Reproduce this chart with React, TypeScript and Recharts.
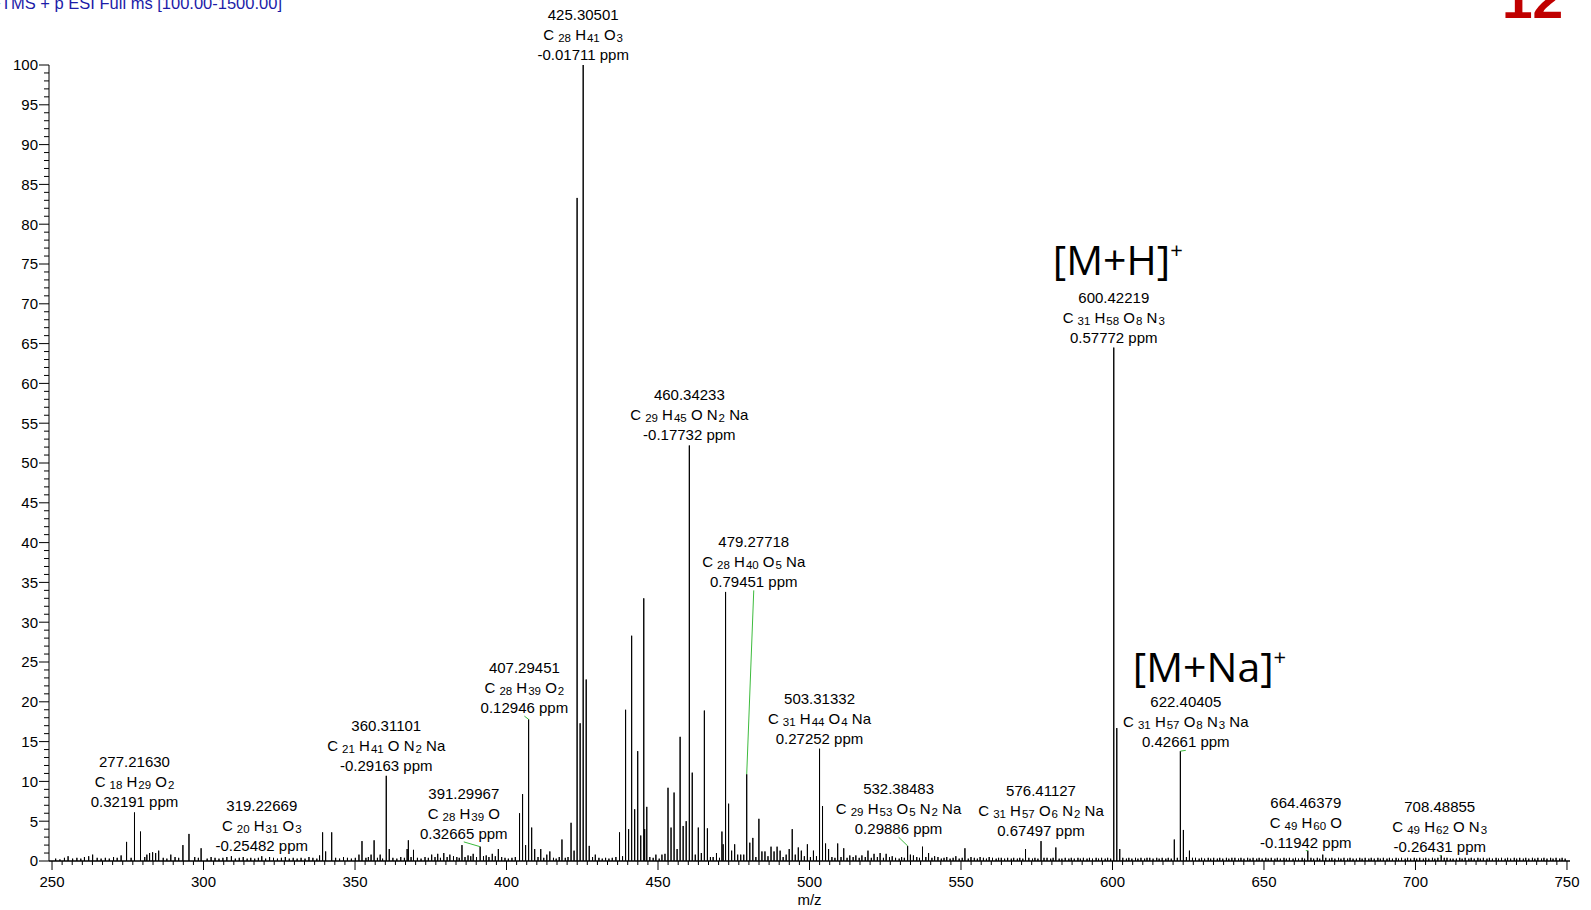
import React from 'react';
import { ComposedChart, Line, XAxis, YAxis, ReferenceDot, ReferenceLine } from 'recharts';

// centroid peaks: [m/z, relative abundance %]
const peaks: [number, number][] = [
  [274.6, 2.4], [277.2163, 6.1], [279.2, 3.7], [282.2, 1.0], [283.2, 1.1], [284.2, 1.0], [285.2, 1.3],
  [289.2, 0.8], [293.2, 2.0], [295.2, 3.4], [299.2, 1.6], [309.2, 0.6], [319.22669, 0.6],
  [339.3, 3.6], [340.3, 1.2], [342.3, 3.6], [351.3, 0.8], [352.3, 2.5], [355.3, 0.8], [356.3, 2.6],
  [358.3, 0.8], [360.31101, 10.7], [361.3, 1.5], [367.2, 1.5], [367.6, 2.6], [369.3, 1.4],
  [375.3, 0.8], [377.3, 0.9], [379.3, 1.0], [381.3, 0.8], [385.3, 2.0], [387.3, 0.7], [389.0, 0.9],
  [391.29967, 1.8], [393.3, 0.7], [395.3, 0.9], [397.3, 1.5],
  [404.3, 6.0], [405.3, 8.4], [406.3, 2.0], [407.29451, 17.8], [408.3, 4.2], [409.3, 1.5],
  [411.3, 1.5], [413.3, 0.8], [414.3, 1.2], [418.3, 2.7], [421.3, 4.8], [422.3, 1.3],
  [423.3, 83.3], [424.3, 17.3], [425.30501, 100], [426.3, 22.8], [427.3, 1.9], [429.3, 0.8],
  [437.3, 3.6], [438.3, 0.6], [439.3, 19.0], [440.3, 4.0], [441.3, 28.3], [442.3, 6.5],
  [443.3, 13.8], [444.3, 3.2], [445.3, 33.0], [445.6, 4.0], [446.3, 6.8], [447.3, 0.5],
  [449.3, 0.8], [451.3, 0.8], [452.3, 0.9], [453.3, 9.2], [454.3, 4.2], [455.3, 8.6], [456.3, 1.5],
  [457.3, 15.6], [458.3, 4.4], [459.3, 5.0], [460.34233, 52.2], [461.3, 11.1], [462.3, 0.8],
  [463.3, 4.2], [464.3, 1.0], [465.3, 18.9], [466.3, 4.1], [467.3, 0.5], [469.3, 1.0],
  [471.1, 3.7], [471.5, 2.1], [472.3, 33.8], [473.3, 7.2], [474.3, 1.3], [475.3, 2.1],
  [476.3, 0.8], [477.3, 0.8], [478.3, 0.8], [479.27718, 10.9], [480.3, 2.3], [481.3, 2.9],
  [483.3, 5.3], [484.3, 1.2], [485.3, 1.2], [487.3, 1.8], [488.3, 1.2], [489.3, 1.8], [490.3, 1.3],
  [492.3, 0.8], [493.3, 1.5], [494.3, 4.0], [495.3, 0.8], [496.3, 1.7], [497.3, 1.3], [499.3, 2.1],
  [501.3, 1.3], [503.31332, 14.1], [504.3, 6.9], [505.3, 2.2], [506.3, 1.5], [509.3, 2.2],
  [511.3, 1.6], [513.3, 0.7], [515.3, 0.7], [517.3, 0.7], [519.3, 1.3], [521.3, 0.9], [523.3, 1.0],
  [525.3, 0.9], [527.3, 0.6], [532.38483, 1.9], [533.3, 0.8], [534.3, 0.7], [537.3, 1.8],
  [539.3, 1.0], [541.3, 0.6], [545.3, 0.5], [548.3, 0.6], [551.3, 1.6], [553.3, 0.5], [556.3, 0.5],
  [559.3, 0.5], [563.3, 0.4], [571.3, 1.5], [576.41127, 2.5], [577.4, 0.4], [581.3, 1.7],
  [583.3, 0.3], [600.42219, 64.5], [601.42, 16.7], [602.4, 1.5], [612.3, 0.4], [620.4, 2.7],
  [621.4, 0.4], [622.40405, 13.8], [623.4, 3.9], [624.4, 0.5], [625.4, 1.3], [626.4, 0.4],
  [639.4, 0.4], [664.46379, 1.3], [665.5, 0.4], [669.4, 0.8], [680.5, 0.3], [708.48855, 0.7],
  [709.5, 0.4], [711.5, 0.3], [713.5, 0.3],
];

// small baseline signals
const baselineNoise: [number, number][] = [
  [251.2, 0.3], [252.6, 0.2], [254.1, 0.4], [255.3, 0.6], [256.8, 0.3], [258.2, 0.4], [259.5, 0.3],
  [260.7, 0.5], [262.1, 0.6], [263.4, 0.8], [264.9, 0.4], [266.2, 0.3], [267.6, 0.4], [268.9, 0.3],
  [270.3, 0.5], [271.5, 0.4], [272.8, 0.7], [276.1, 0.4], [280.6, 0.5], [281.3, 0.8], [286.7, 0.4],
  [287.9, 0.3], [290.6, 0.5], [291.8, 0.4], [297.1, 0.5], [298.3, 0.4], [301.2, 0.3], [302.5, 0.5],
  [303.8, 0.4], [305.1, 0.3], [306.4, 0.4], [307.7, 0.5], [310.5, 0.3], [311.8, 0.4], [313.1, 0.5],
  [314.4, 0.3], [315.6, 0.4], [316.9, 0.3], [318.1, 0.4], [320.5, 0.3], [321.8, 0.5], [323.1, 0.4],
  [324.4, 0.3], [325.7, 0.4], [327.0, 0.5], [328.3, 0.3], [329.6, 0.4], [330.9, 0.3], [332.2, 0.4],
  [333.5, 0.3], [334.8, 0.5], [336.1, 0.4], [337.4, 0.3], [338.3, 0.7], [343.6, 0.4], [344.9, 0.3],
  [346.2, 0.5], [347.5, 0.4], [348.8, 0.3], [350.1, 0.4], [353.6, 0.4], [354.4, 0.5], [357.4, 0.4],
  [359.1, 0.3], [362.5, 0.4], [363.8, 0.3], [365.1, 0.5], [366.3, 0.4], [368.5, 0.5], [370.6, 0.4],
  [371.8, 0.3], [373.1, 0.5], [374.2, 0.4], [376.4, 0.5], [378.2, 0.4], [380.4, 0.5], [382.5, 0.6],
  [383.6, 0.5], [384.4, 0.4], [386.3, 0.5], [388.2, 0.6], [390.1, 0.5], [392.4, 0.6], [394.2, 0.5],
  [396.3, 0.6], [398.4, 0.5], [399.5, 0.4], [400.6, 0.3], [401.8, 0.4], [402.9, 0.5], [410.4, 0.5],
  [412.3, 0.4], [415.5, 0.4], [416.4, 0.3], [417.4, 0.5], [419.4, 0.4], [420.3, 0.5], [428.4, 0.5],
  [430.5, 0.4], [431.6, 0.3], [432.7, 0.4], [433.8, 0.3], [434.9, 0.4], [436.1, 0.5], [448.4, 0.4],
  [450.4, 0.3], [468.2, 0.5], [470.3, 0.4], [482.3, 0.5], [486.3, 0.6], [491.3, 0.5], [498.3, 0.6],
  [500.3, 0.5], [502.3, 0.6], [507.4, 0.5], [508.4, 0.4], [510.4, 0.5], [512.4, 0.4], [514.4, 0.5],
  [516.4, 0.4], [518.4, 0.5], [520.4, 0.4], [522.4, 0.5], [524.4, 0.4], [526.4, 0.5], [528.4, 0.4],
  [529.6, 0.3], [530.4, 0.5], [531.3, 0.4], [535.4, 0.5], [536.3, 0.4], [538.4, 0.5], [540.4, 0.4],
  [542.4, 0.5], [543.5, 0.3], [544.4, 0.4], [546.4, 0.3], [547.4, 0.4], [549.4, 0.3], [550.4, 0.4],
  [552.4, 0.3], [554.4, 0.4], [555.4, 0.3], [557.4, 0.4], [558.4, 0.3], [560.4, 0.4], [561.6, 0.3],
  [562.4, 0.4], [564.4, 0.3], [565.4, 0.4], [566.6, 0.3], [567.4, 0.4], [568.6, 0.3], [569.4, 0.4],
  [570.4, 0.3], [572.4, 0.4], [573.6, 0.3], [574.4, 0.4], [575.4, 0.3], [578.4, 0.4], [579.6, 0.3],
  [580.4, 0.4], [582.4, 0.3], [584.4, 0.4], [585.6, 0.3], [586.4, 0.4], [587.4, 0.3], [588.6, 0.4],
  [589.4, 0.3], [590.4, 0.4], [591.6, 0.3], [592.4, 0.4], [593.4, 0.3], [594.6, 0.4], [595.4, 0.3],
  [596.4, 0.4], [597.6, 0.3], [598.4, 0.4], [599.4, 0.3], [603.4, 0.4], [604.6, 0.3], [605.4, 0.4],
  [606.4, 0.3], [607.6, 0.4], [608.4, 0.3], [609.4, 0.4], [610.6, 0.3], [611.4, 0.4], [613.4, 0.3],
  [614.6, 0.4], [615.4, 0.3], [616.4, 0.4], [617.6, 0.3], [618.4, 0.4], [619.4, 0.3], [627.4, 0.4],
  [628.6, 0.3], [629.4, 0.4], [630.4, 0.3], [631.6, 0.4], [632.4, 0.3], [633.4, 0.4], [634.6, 0.3],
  [635.4, 0.4], [636.4, 0.3], [637.6, 0.4], [638.4, 0.3], [640.4, 0.4], [641.6, 0.3], [642.4, 0.4],
  [643.4, 0.3], [644.6, 0.4], [645.4, 0.3], [646.4, 0.4], [647.6, 0.3], [648.4, 0.4], [649.4, 0.3],
  [650.6, 0.4], [651.4, 0.3], [652.4, 0.4], [653.6, 0.3], [654.4, 0.4], [655.4, 0.3], [656.6, 0.4],
  [657.4, 0.3], [658.4, 0.4], [659.6, 0.3], [660.4, 0.4], [661.4, 0.3], [662.6, 0.4], [663.4, 0.3],
  [666.4, 0.3], [667.6, 0.4], [668.4, 0.3], [670.4, 0.4], [671.6, 0.3], [672.4, 0.4], [673.4, 0.3],
  [674.6, 0.4], [675.4, 0.3], [676.4, 0.4], [677.6, 0.3], [678.4, 0.4], [679.4, 0.3], [681.6, 0.4],
  [682.4, 0.3], [683.4, 0.4], [684.6, 0.3], [685.4, 0.4], [686.4, 0.3], [687.6, 0.4], [688.4, 0.3],
  [689.4, 0.4], [690.6, 0.3], [691.4, 0.4], [692.4, 0.3], [693.6, 0.4], [694.4, 0.3], [695.4, 0.4],
  [696.6, 0.3], [697.4, 0.4], [698.4, 0.3], [699.6, 0.4], [700.4, 0.3], [701.4, 0.4], [702.6, 0.3],
  [703.4, 0.4], [704.4, 0.3], [705.6, 0.4], [706.4, 0.3], [707.4, 0.4], [710.4, 0.4], [712.4, 0.3],
  [714.6, 0.4], [715.4, 0.3], [716.4, 0.4], [717.6, 0.3], [718.4, 0.4], [719.4, 0.3], [720.6, 0.4],
  [721.4, 0.3], [722.4, 0.4], [723.6, 0.3], [724.4, 0.4], [725.4, 0.3], [726.6, 0.4], [727.4, 0.3],
  [728.4, 0.4], [729.6, 0.3], [730.4, 0.4], [731.4, 0.3], [732.6, 0.4], [733.4, 0.3], [734.4, 0.4],
  [735.6, 0.3], [736.4, 0.4], [737.4, 0.3], [738.6, 0.4], [739.4, 0.3], [740.4, 0.4], [741.6, 0.3],
  [742.4, 0.4], [743.4, 0.3], [744.6, 0.4], [745.4, 0.3], [746.4, 0.4], [747.6, 0.3], [748.4, 0.4],
  [749.4, 0.3],
];

// annotated peaks
const labelMz = [
  '277.21630', '319.22669', '360.31101', '391.29967', '407.29451', '425.30501', '460.34233',
  '479.27718', '503.31332', '532.38483', '576.41127', '600.42219', '622.40405', '664.46379', '708.48855',
];
const labelFormula = [
  'C18 H29 O2', 'C20 H31 O3', 'C21 H41 O N2 Na', 'C28 H39 O', 'C28 H39 O2', 'C28 H41 O3',
  'C29 H45 O N2 Na', 'C28 H40 O5 Na', 'C31 H44 O4 Na', 'C29 H53 O5 N2 Na', 'C31 H57 O6 N2 Na',
  'C31 H58 O8 N3', 'C31 H57 O8 N3 Na', 'C49 H60 O', 'C49 H62 O N3',
];
const labelPpm = [
  '0.32191', '-0.25482', '-0.29163', '0.32665', '0.12946', '-0.01711', '-0.17732', '0.79451',
  '0.27252', '0.29886', '0.67497', '0.57772', '0.42661', '-0.11942', '-0.26431',
];
// labels moved away from their peak (joined by a green leader): [label m/z, label abundance]
const labelMoved: Record<string, [number, number]> = {
  '391.29967': [385.9, 2.4],
  '407.29451': [405.9, 18.2],
  '479.27718': [481.6, 34.0],
  '532.38483': [529.4, 3.0],
  '622.40405': [624.2, 13.9],
  '664.46379': [663.8, 1.3],
  '708.48855': [708.0, 0.7],
};

const ionLabels = [
  { text: '[M+H]', mz: 580.3, ab: 73.6 },
  { text: '[M+Na]', mz: 606.7, ab: 22.5 },
];

const xMajorTicks = [250, 300, 350, 400, 450, 500, 550, 600, 650, 700, 750];
const yTickLabels = [0, 5, 10, 15, 20, 25, 30, 35, 40, 45, 50, 55, 60, 65, 70, 75, 80, 85, 90, 95, 100];

const xMinorTicks = Array.from({ length: 151 }, (_, k) => 250 + (k * 10) / 3);
const yMinorTicks = Array.from({ length: 101 }, (_, k) => k);

const FONT = "'Liberation Sans', Arial, sans-serif";

// stick spectrum as one trace: baseline -> apex -> baseline for each centroid
const allPeaks = [...peaks, ...baselineNoise].sort((a, b) => a[0] - b[0]);
const spectrum: { mz: number; ab: number }[] = [{ mz: 249, ab: 0 }];
allPeaks.forEach(([mz, ab]) => {
  spectrum.push({ mz, ab: 0 }, { mz, ab }, { mz, ab: 0 });
});
spectrum.push({ mz: 751, ab: 0 });

const abundanceAt = (mz: number) => {
  const p = peaks.find((q) => Math.abs(q[0] - mz) < 1e-6);
  return p ? p[1] : 0;
};

const Formula = ({ formula }: { formula: string }) => {
  const parts = formula.split(' ').map((t) => {
    const m = t.match(/^([A-Z][a-z]?)(\d*)$/);
    return { el: m ? m[1] : t, n: m ? m[2] : '' };
  });
  const out: React.ReactNode[] = [];
  let lowered = false;
  parts.forEach((p, i) => {
    out.push(
      <tspan key={'e' + i} dy={lowered ? -2 : 0}>
        {(i > 0 ? ' ' : '') + p.el}
      </tspan>
    );
    lowered = false;
    if (p.n) {
      out.push(
        <tspan key={'n' + i} fontSize={11.5} dx={p.el === 'C' ? 4 : 1} dy={2}>
          {p.n}
        </tspan>
      );
      lowered = true;
    }
  });
  return <>{out}</>;
};

const PeakLabel = ({ cx, cy, idx }: { cx: number; cy: number; idx: number }) => (
  <g fontFamily={FONT} fontSize={15} fill="#000" textAnchor="middle">
    <text x={cx} y={cy - 45}>{labelMz[idx]}</text>
    <text x={cx} y={cy - 25}>
      <Formula formula={labelFormula[idx]} />
    </text>
    <text x={cx} y={cy - 5}>{labelPpm[idx] + ' ppm'}</text>
  </g>
);

const XTick = (props: any) => {
  const { x, y, payload } = props;
  const v = payload.value;
  const major = Math.abs(v - Math.round(v / 50) * 50) < 1e-6 && xMajorTicks.includes(Math.round(v));
  return (
    <g>
      <line x1={x} x2={x} y1={y} y2={y + (major ? 9 : 4)} stroke="#000" strokeWidth={1} />
      {major && (
        <text x={x} y={y + 26} textAnchor="middle" fontFamily={FONT} fontSize={15} fill="#000">
          {Math.round(v)}
        </text>
      )}
    </g>
  );
};

const YTick = (props: any) => {
  const { x, y, payload } = props;
  const major = yTickLabels.includes(payload.value);
  return (
    <g>
      <line x1={x - (major ? 10 : 5)} x2={x} y1={y} y2={y} stroke="#000" strokeWidth={1} />
      {major && (
        <text x={x - 11} y={y + 5.3} textAnchor="end" fontFamily={FONT} fontSize={15} fill="#000">
          {payload.value}
        </text>
      )}
    </g>
  );
};

export default function App() {
  return (
    <div style={{ position: 'absolute', left: 0, top: 0, width: 1591, height: 910, background: '#fff' }}>
      <ComposedChart
        width={1591}
        height={910}
        data={spectrum}
        margin={{ top: 65, right: 21, bottom: 0, left: 0 }}
      >
        <XAxis
          dataKey="mz"
          type="number"
          domain={[249, 751]}
          ticks={xMinorTicks}
          interval={0}
          height={49}
          tickSize={0}
          tickMargin={0}
          tickLine={false}
          tick={XTick}
          axisLine={{ stroke: '#000', strokeWidth: 1 }}
        />
        <YAxis
          type="number"
          domain={[0, 100]}
          ticks={yMinorTicks}
          interval={0}
          width={49}
          tickSize={0}
          tickMargin={0}
          tickLine={false}
          tick={YTick}
          axisLine={{ stroke: '#000', strokeWidth: 1 }}
        />
        <Line
          type="linear"
          dataKey="ab"
          stroke="#000"
          strokeWidth={1}
          dot={false}
          activeDot={false}
          isAnimationActive={false}
        />
        {labelMz.map((s) => {
          const moved = labelMoved[s];
          if (!moved) return null;
          const mz = parseFloat(s);
          return (
            <ReferenceLine
              key={'lead' + s}
              segment={[
                { x: mz, y: abundanceAt(mz) },
                { x: moved[0], y: moved[1] },
              ]}
              stroke="#3dbb3d"
              strokeWidth={1}
            />
          );
        })}
        {labelMz.map((s, i) => {
          const mz = parseFloat(s);
          const moved = labelMoved[s];
          const lx = moved ? moved[0] : mz;
          const ly = moved ? moved[1] : abundanceAt(mz);
          return (
            <ReferenceDot
              key={'lab' + s}
              x={lx}
              y={ly}
              r={0}
              shape={(p: any) => <PeakLabel cx={p.cx} cy={p.cy + (moved ? 2 : 0)} idx={i} />}
            />
          );
        })}
        {ionLabels.map((l) => (
          <ReferenceDot
            key={l.text}
            x={l.mz}
            y={l.ab}
            r={0}
            shape={(p: any) => (
              <text x={p.cx} y={p.cy} fontFamily="'Open Sans', sans-serif" fontSize={41} fill="#000">
                {l.text}
                <tspan fontSize={22} dy={-17}>+</tspan>
              </text>
            )}
          />
        ))}
      </ComposedChart>
      <svg
        width={1591}
        height={910}
        style={{ position: 'absolute', left: 0, top: 0, pointerEvents: 'none' }}
      >
        <text x={282} y={9} textAnchor="end" fontFamily={FONT} fontSize={16.5} fill="#1c1ca8">
          FTMS + p ESI Full ms [100.00-1500.00]
        </text>
        <text x={1502} y={18} fontFamily={FONT} fontSize={55} fontWeight="bold" fill="#c00000">
          12
        </text>
        <text x={809.5} y={905} textAnchor="middle" fontFamily={FONT} fontSize={15} fill="#000">
          m/z
        </text>
      </svg>
    </div>
  );
}
